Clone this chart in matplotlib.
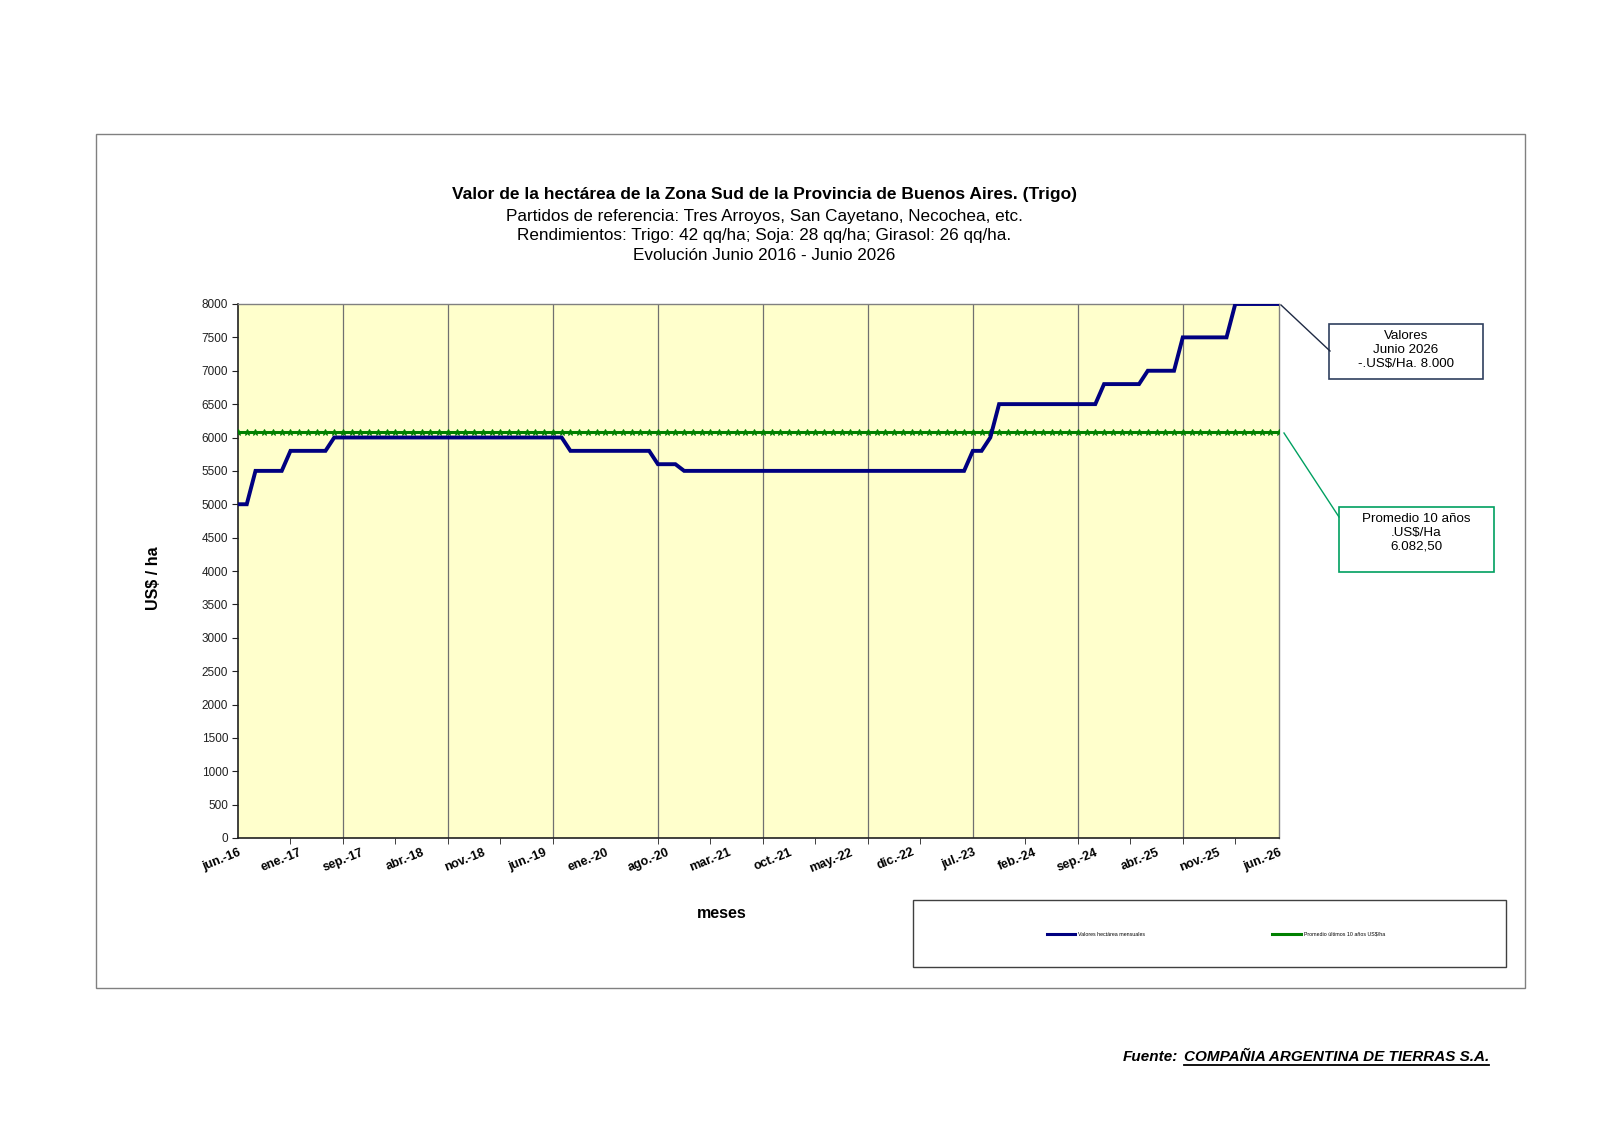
import numpy as np
import matplotlib
matplotlib.use('Agg')
import matplotlib.pyplot as plt
from matplotlib.patches import Rectangle
from matplotlib.lines import Line2D

plt.rcParams['font.family'] = ['Liberation Sans', 'DejaVu Sans']

# monthly value per hectare, jun-16 .. jun-26 (US$/ha)
valores = [
  5000, 5000, 5500, 5500, 5500, 5500, 5800, 5800, 5800, 5800, 5800, 6000,
  6000, 6000, 6000, 6000, 6000, 6000, 6000, 6000, 6000, 6000, 6000, 6000,
  6000, 6000, 6000, 6000, 6000, 6000, 6000, 6000, 6000, 6000, 6000, 6000,
  6000, 6000, 5800, 5800, 5800, 5800, 5800, 5800, 5800, 5800, 5800, 5800,
  5600, 5600, 5600, 5500, 5500, 5500, 5500, 5500, 5500, 5500, 5500, 5500,
  5500, 5500, 5500, 5500, 5500, 5500, 5500, 5500, 5500, 5500, 5500, 5500,
  5500, 5500, 5500, 5500, 5500, 5500, 5500, 5500, 5500, 5500, 5500, 5500,
  5800, 5800, 6000, 6500, 6500, 6500, 6500, 6500, 6500, 6500, 6500, 6500,
  6500, 6500, 6500, 6800, 6800, 6800, 6800, 6800, 7000, 7000, 7000, 7000,
  7500, 7500, 7500, 7500, 7500, 7500, 8000, 8000, 8000, 8000, 8000, 8000,
]
promedio = 6082.50
tick_labels = ['jun.-16', 'ene.-17', 'sep.-17', 'abr.-18', 'nov.-18', 'jun.-19',
               'ene.-20', 'ago.-20', 'mar.-21', 'oct.-21', 'may.-22', 'dic.-22',
               'jul.-23', 'feb.-24', 'sep.-24', 'abr.-25', 'nov.-25', 'jun.-26']

W, H = 1600, 1131
fig = plt.figure(figsize=(W / 100, H / 100), dpi=100)
fig.patch.set_facecolor('white')

def fx(x):
  return x / W

def fy(y):
  return 1 - y / H

# plot area in pixels
left, right, top, bottom = 238, 1279, 304, 838
ax = fig.add_axes([fx(left), fy(bottom), fx(right - left), (bottom - top) / H])
ax.set_facecolor('#FFFFCC')

xs = np.arange(len(valores))
n = len(valores)

for g in range(12, n, 12):
  ax.axvline(g, color='#707070', lw=0.9, zorder=1)

ax.plot(xs, np.full(n, promedio), color='#008000', lw=2.2, marker='*',
        markersize=5, markeredgewidth=0.7, zorder=3)
ax.plot(xs, valores, color='#000080', lw=2.8, zorder=4, solid_joinstyle='miter')

ax.set_xlim(0, n - 1)
ax.set_ylim(0, 8000)
ax.set_yticks(np.arange(0, 8001, 500))
ax.tick_params(axis='y', labelsize=8.5, length=4, direction='out', colors='#202020', pad=3)

ax.set_xticks(np.arange(0, n, 7))
ax.set_xticklabels(tick_labels, rotation=22, ha='right', rotation_mode='anchor',
                   fontsize=9, fontweight='bold')
ax.tick_params(axis='x', which='major', length=0, pad=6)
ax.set_xticks(np.arange(0, n, 6), minor=True)
ax.tick_params(axis='x', which='minor', length=4, direction='out', color='#202020')

for s in ['top', 'right']:
  ax.spines[s].set_color('#808080')
  ax.spines[s].set_linewidth(1.0)
for s in ['left', 'bottom']:
  ax.spines[s].set_color('#202020')
  ax.spines[s].set_linewidth(1.2)

# outer chart frame
fig.add_artist(Rectangle((fx(96), fy(988)), fx(1525 - 96), (988 - 134) / H,
                         transform=fig.transFigure, fill=False, ec='#808080', lw=1.0))

# titles
fig.text(fx(764), fy(195), 'Valor de la hectárea de la Zona Sud de la Provincia de Buenos Aires. (Trigo)',
         ha='center', va='center', fontsize=12.5, fontweight='bold')
subs = ['Partidos de referencia: Tres Arroyos, San Cayetano, Necochea, etc.',
        'Rendimientos: Trigo: 42 qq/ha; Soja: 28 qq/ha; Girasol: 26 qq/ha.',
        'Evolución Junio 2016 - Junio 2026']
for i, s in enumerate(subs):
  fig.text(fx(764), fy(216 + 19.5 * i), s, ha='center', va='center', fontsize=12.3)

fig.text(fx(722), fy(914), 'meses', ha='center', va='center', fontsize=11.5, fontweight='bold')
fig.text(fx(153), fy(578), 'US$ / ha', ha='center', va='center', fontsize=11.5,
         fontweight='bold', rotation=90)

# legend box
fig.add_artist(Rectangle((fx(913), fy(967)), fx(1506 - 913), (967 - 900) / H,
                         transform=fig.transFigure, fill=False, ec='#404040', lw=1.0))
fig.add_artist(Line2D([fx(1047), fx(1075)], [fy(934), fy(934)], color='#000080', lw=2.2))
fig.text(fx(1078), fy(934), 'Valores hectárea mensuales', ha='left', va='center', fontsize=3.8)
fig.add_artist(Line2D([fx(1272), fx(1301)], [fy(934), fy(934)], color='#008000', lw=2.2))
fig.text(fx(1304), fy(934), 'Promedio últimos 10 años US$/ha', ha='left', va='center', fontsize=3.8)

# callouts
fig.add_artist(Line2D([fx(1281), fx(1330)], [fy(305), fy(351)], color='#1F2A44', lw=1.0))
fig.add_artist(Rectangle((fx(1329), fy(379)), fx(1483 - 1329), (379 - 324) / H,
                         transform=fig.transFigure, fc='white', ec='#2F3F5F', lw=1.2))
fig.text(fx(1406), fy(350), 'Valores\nJunio 2026\n-.US$/Ha. 8.000', ha='center', va='center',
         fontsize=9.6, linespacing=1.22)

fig.add_artist(Line2D([fx(1284), fx(1339)], [fy(433), fy(517)], color='#00A060', lw=1.0))
fig.add_artist(Rectangle((fx(1339), fy(572)), fx(1494 - 1339), (572 - 507) / H,
                         transform=fig.transFigure, fc='white', ec='#00A060', lw=1.2))
fig.text(fx(1416), fy(533), 'Promedio 10 años\n.US$/Ha\n6.082,50', ha='center', va='center',
         fontsize=9.6, linespacing=1.22)

# footer
fig.text(fx(1123), fy(1057), 'Fuente:', ha='left', va='center', fontsize=11,
         fontweight='bold', fontstyle='italic')
src = fig.text(fx(1184), fy(1057), 'COMPAÑIA ARGENTINA DE TIERRAS S.A.', ha='left', va='center',
               fontsize=11, fontweight='bold', fontstyle='italic')
fig.canvas.draw()
bb = src.get_window_extent()
fig.add_artist(Line2D([bb.x0 / W, bb.x1 / W], [fy(1065), fy(1065)], color='black', lw=1.3))

fig.savefig('out.png', dpi=100)
